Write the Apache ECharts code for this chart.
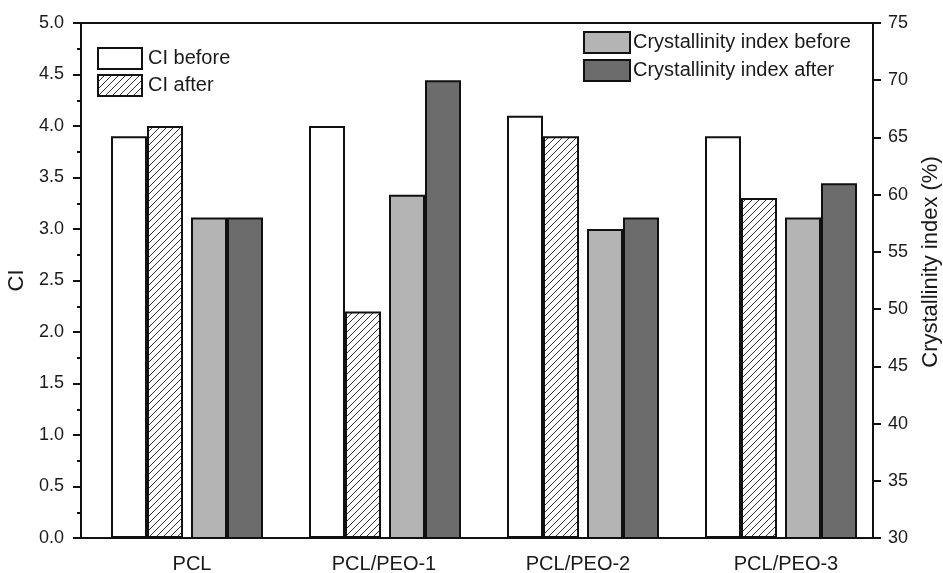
<!DOCTYPE html>
<html>
<head>
<meta charset="utf-8">
<script src="https://cdn.jsdelivr.net/npm/echarts@6/dist/echarts.min.js"></script>
<style>
  html, body { margin: 0; padding: 0; background: #fff; }
  #chart { width: 943px; height: 573px; }
</style>
</head>
<body>
<div id="chart"></div>
<script>
// Samples on the category axis
const categories = ['PCL', 'PCL/PEO-1', 'PCL/PEO-2', 'PCL/PEO-3'];

// CI (left axis)
const ciBefore = [3.9, 4.0, 4.1, 3.9];
const ciAfter = [4.0, 2.2, 3.9, 3.3];

// Crystallinity index in % (right axis)
const crystBefore = [58, 60, 57, 58];
const crystAfter = [58, 70, 58, 61];

const FONT = '"Liberation Sans", Arial, sans-serif';
const INK = '#1a1a1a';

// Diagonal hatch tile for the "CI after" bars
function hatchTile() {
  const s = 7;
  const c = document.createElement('canvas');
  c.width = s; c.height = s;
  const g = c.getContext('2d');
  g.fillStyle = '#ffffff';
  g.fillRect(0, 0, s, s);
  g.strokeStyle = '#333333';
  g.lineWidth = 1;
  g.beginPath();
  g.moveTo(-1, s + 1); g.lineTo(s + 1, -1);
  g.moveTo(-1, 1); g.lineTo(1, -1);
  g.moveTo(s - 1, s + 1); g.lineTo(s + 1, s - 1);
  g.stroke();
  return c;
}

const border = { borderColor: '#111', borderWidth: 2 };
const BAR_W = 36;

// Per-category nudges of the tick labels
const labelNudge = { 'PCL': 12, 'PCL/PEO-1': 6, 'PCL/PEO-2': 2, 'PCL/PEO-3': 12 };
const labelRich = {};
categories.forEach((c, i) => {
  labelRich['c' + i] = { padding: [0, 0, 0, labelNudge[c] * 2], fontSize: 20, fontFamily: FONT, color: INK };
});

function spacer(w) {
  return {
    type: 'bar', xAxisIndex: 0, yAxisIndex: 0, barWidth: w, barGap: 0,
    data: categories.map(() => null), silent: true, legendHoverLink: false,
    itemStyle: { color: 'transparent' }
  };
}

const chart = echarts.init(document.getElementById('chart'), null, { renderer: 'canvas' });

chart.setOption({
  animation: false,
  backgroundColor: '#ffffff',
  grid: { left: 81, right: 70, top: 23, bottom: 35, containLabel: false, outerBoundsMode: 'none' },
  legend: [
    {
      orient: 'vertical', left: 97, top: 47, padding: 0, itemWidth: 44, itemHeight: 21, itemGap: 4,
      icon: 'rect',
      data: ['CI before', 'CI after'],
      textStyle: { fontSize: 20, fontFamily: FONT, color: INK, padding: [0, 0, 0, 1] },
      selectedMode: false
    },
    {
      orient: 'vertical', left: 583, top: 31, padding: 0, itemWidth: 46, itemHeight: 21, itemGap: 5,
      icon: 'rect',
      data: ['Crystallinity index before', 'Crystallinity index after'],
      textStyle: { fontSize: 20, fontFamily: FONT, color: INK, padding: [0, 0, 0, -2] },
      selectedMode: false
    }
  ],
  xAxis: [
    {
      type: 'category', data: categories, position: 'bottom',
      axisLine: { lineStyle: { color: '#111', width: 2 } },
      axisTick: { show: false },
      axisLabel: {
        margin: 16, interval: 0,
        formatter: (v) => '{c' + categories.indexOf(v) + '|' + v + '}',
        rich: labelRich
      },
      splitLine: { show: false }
    },
    {
      type: 'category', data: categories, position: 'top',
      axisLine: { lineStyle: { color: '#111', width: 2 } },
      axisTick: { show: false }, axisLabel: { show: false }, splitLine: { show: false }
    }
  ],
  yAxis: [
    {
      type: 'value', min: 0, max: 5, interval: 0.5, position: 'left',
      name: 'CI', nameLocation: 'middle', nameGap: 47, nameRotate: 90,
      nameTextStyle: { fontSize: 22, fontFamily: FONT, color: INK },
      axisLine: { show: true, lineStyle: { color: '#111', width: 2 } },
      axisTick: { show: true, length: 8, lineStyle: { color: '#111', width: 2 } },
      minorTick: { show: true, splitNumber: 2, length: 4, lineStyle: { color: '#111', width: 2 } },
      axisLabel: { margin: 17, fontSize: 18, fontFamily: FONT, color: INK, formatter: (v) => v.toFixed(1) },
      splitLine: { show: false }
    },
    {
      type: 'value', min: 30, max: 75, interval: 5, position: 'right',
      name: 'Crystallinity index (%)', nameLocation: 'middle', nameGap: 47, nameRotate: 90,
      nameTextStyle: { fontSize: 22, fontFamily: FONT, color: INK, padding: [0, 0, 0, 37] },
      axisLine: { show: true, lineStyle: { color: '#111', width: 2 } },
      axisTick: { show: true, length: 8, lineStyle: { color: '#111', width: 2 } },
      axisLabel: { margin: 15, fontSize: 18, fontFamily: FONT, color: INK },
      splitLine: { show: false }
    }
  ],
  series: [
    spacer(14),
    {
      name: 'CI before', type: 'bar', xAxisIndex: 0, yAxisIndex: 0,
      barWidth: BAR_W, barGap: 0, data: ciBefore,
      itemStyle: Object.assign({ color: '#ffffff' }, border)
    },
    {
      name: 'CI after', type: 'bar', xAxisIndex: 0, yAxisIndex: 0,
      barWidth: BAR_W, barGap: 0, data: ciAfter,
      itemStyle: Object.assign({ color: { image: hatchTile(), repeat: 'repeat' } }, border)
    },
    spacer(8),
    {
      name: 'Crystallinity index before', type: 'bar', xAxisIndex: 0, yAxisIndex: 1,
      barWidth: BAR_W, barGap: 0, data: crystBefore,
      itemStyle: Object.assign({ color: '#b4b4b4' }, border)
    },
    {
      name: 'Crystallinity index after', type: 'bar', xAxisIndex: 0, yAxisIndex: 1,
      barWidth: BAR_W, barGap: 0, data: crystAfter,
      itemStyle: Object.assign({ color: '#6c6c6c' }, border)
    }
  ]
});
</script>
</body>
</html>
